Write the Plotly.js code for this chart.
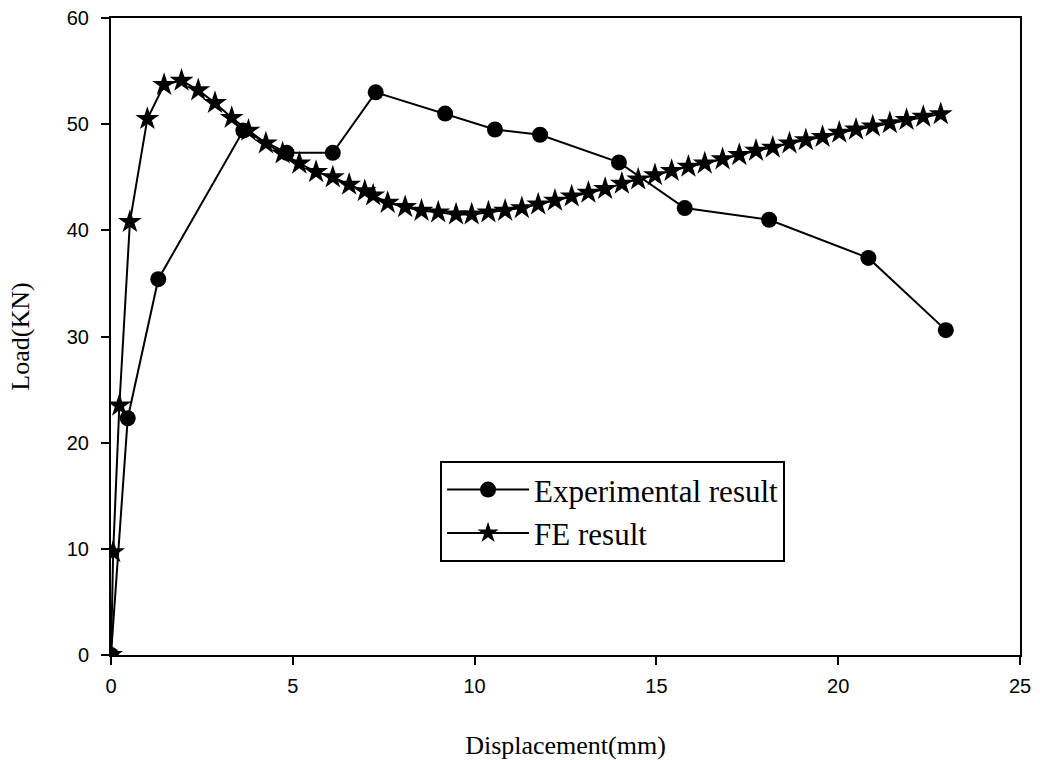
<!DOCTYPE html>
<html>
<head>
<meta charset="utf-8">
<script src="https://cdn.plot.ly/plotly-3.0.1.min.js"></script>
<style>html,body{margin:0;padding:0;background:#fff;}#chart{width:1040px;height:760px;}</style>
</head>
<body>
<div id="chart"></div>
<script>
const feX = [0, 0.06, 0.23, 0.52, 1.0, 1.46, 1.94, 2.40, 2.86, 3.32, 3.78, 4.26, 4.72, 5.18, 5.64, 6.10, 6.55, 6.98, 7.21, 7.61, 8.09, 8.54, 9.0, 9.49, 9.92, 10.38, 10.84, 11.30, 11.75, 12.21, 12.67, 13.13, 13.59, 14.05, 14.50, 14.96, 15.42, 15.88, 16.33, 16.82, 17.28, 17.74, 18.20, 18.66, 19.11, 19.57, 20.03, 20.49, 20.95, 21.42, 21.88, 22.34, 22.82];
const feY = [0, 9.7, 23.5, 40.8, 50.5, 53.7, 54.1, 53.2, 52.0, 50.6, 49.4, 48.2, 47.25, 46.3, 45.5, 45.0, 44.3, 43.7, 43.3, 42.6, 42.2, 41.85, 41.7, 41.5, 41.5, 41.7, 41.85, 42.1, 42.45, 42.8, 43.2, 43.55, 43.9, 44.4, 44.8, 45.2, 45.6, 46.0, 46.3, 46.7, 47.1, 47.5, 47.8, 48.2, 48.5, 48.8, 49.2, 49.5, 49.8, 50.1, 50.4, 50.7, 50.95];
const expX = [0, 0.46, 1.30, 3.64, 4.83, 6.10, 7.28, 9.19, 10.56, 11.80, 13.97, 15.78, 18.10, 20.83, 22.96];
const expY = [0, 22.3, 35.4, 49.4, 47.3, 47.3, 53.0, 51.0, 49.5, 49.0, 46.4, 42.1, 41.0, 37.4, 30.6];
const seriesNames = ['Experimental result', 'FE result'];
const xTickVals = [0, 5, 10, 15, 20, 25];
const yTickVals = [0, 10, 20, 30, 40, 50, 60];

const traces = [
  {x: feX, y: feY, name: seriesNames[1], type: 'scatter', mode: 'lines+markers',
   line: {color: '#000', width: 2}, marker: {symbol: 'star', size: 18, color: '#000'}},
  {x: expX, y: expY, name: seriesNames[0], type: 'scatter', mode: 'lines+markers',
   line: {color: '#000', width: 2}, marker: {symbol: 'circle', size: 16, color: '#000'}}
];

const sans = 'Arial, "Liberation Sans", sans-serif';
const serif = '"Times New Roman", "Liberation Serif", serif';

const layout = {
  width: 1040, height: 760,
  margin: {l: 111, r: 20, t: 18, b: 105},
  paper_bgcolor: '#fff', plot_bgcolor: '#fff',
  showlegend: true,
  legend: {
    x: 0.362, y: 0.3046, xanchor: 'left', yanchor: 'top',
    traceorder: 'reversed',
    bordercolor: '#000', borderwidth: 2, bgcolor: '#fff',
    font: {family: serif, size: 31, color: '#000'},
    itemwidth: 82, tracegroupgap: 0
  },
  xaxis: {
    range: [0, 25], tickvals: xTickVals, ticks: 'outside', ticklen: 8, tickwidth: 2, tickcolor: '#000',
    ticklabelstandoff: 4,
    showline: true, linecolor: '#000', linewidth: 2, mirror: true, showgrid: false, zeroline: false,
    tickfont: {family: sans, size: 20, color: '#000'},
    title: {text: 'Displacement(mm)', font: {family: serif, size: 26, color: '#000'}, standoff: 42}
  },
  yaxis: {
    range: [0, 60], tickvals: yTickVals, ticks: 'outside', ticklen: 8, tickwidth: 2, tickcolor: '#000',
    ticklabelstandoff: 8,
    showline: true, linecolor: '#000', linewidth: 2, mirror: true, showgrid: false, zeroline: false,
    tickfont: {family: sans, size: 20, color: '#000'},
    title: {text: 'Load(KN)', font: {family: serif, size: 26, color: '#000'}, standoff: 30}
  }
};

Plotly.newPlot('chart', traces, layout, {displayModeBar: false, staticPlot: true});
</script>
</body>
</html>
